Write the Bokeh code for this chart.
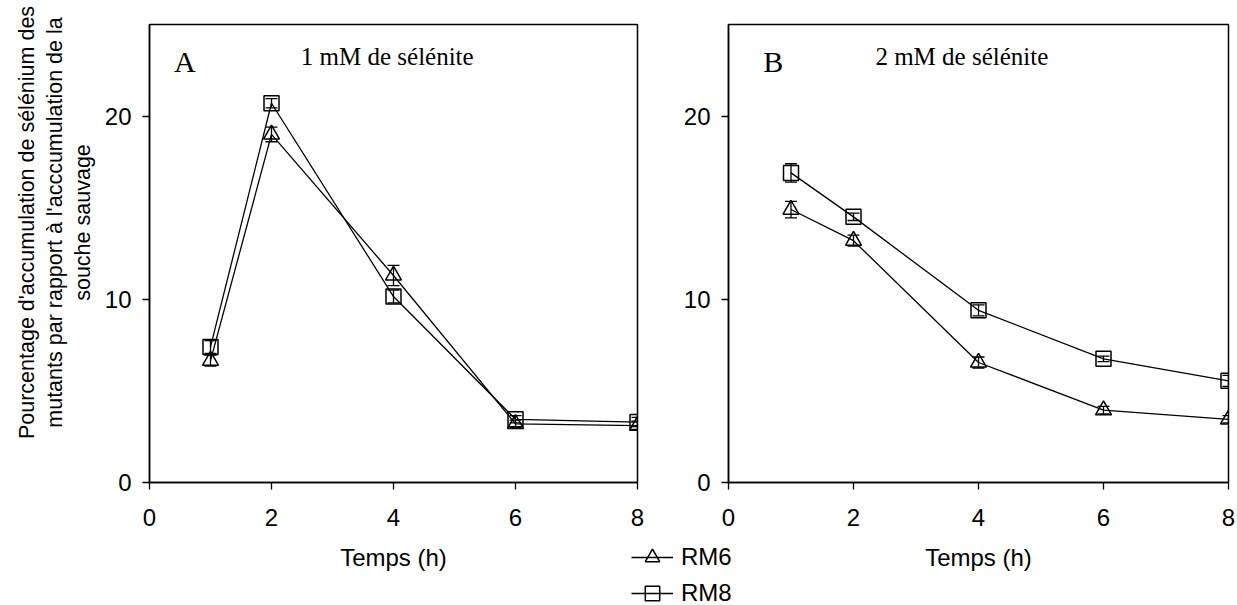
import math
from bokeh.plotting import figure
from bokeh.models import (Range1d, FixedTicker, Whisker, ColumnDataSource, Label,
                          Legend, LegendItem, TeeHead)
from bokeh.layouts import row
from bokeh.embed import file_html
from bokeh.resources import INLINE

# ---------------- data ----------------
hours = [1, 2, 4, 6, 8]
x_ticks = [0, 2, 4, 6, 8]
y_ticks = [0, 10, 20]
series_names = ["RM6", "RM8"]

a_rm6 = [6.65, 19.0, 11.3, 3.2, 3.1]
a_rm6_err = [0.3, 0.4, 0.55, 0.2, 0.25]
a_rm8 = [7.4, 20.7, 10.15, 3.45, 3.3]
a_rm8_err = [0.35, 0.25, 0.35, 0.2, 0.25]

b_rm6 = [14.9, 13.2, 6.55, 3.95, 3.45]
b_rm6_err = [0.45, 0.3, 0.3, 0.2, 0.2]
b_rm8 = [16.9, 14.5, 9.4, 6.75, 5.55]
b_rm8_err = [0.5, 0.2, 0.3, 0.15, 0.3]

panel_letters = ["A", "B"]
panel_titles = ["1 mM de sélénite", "2 mM de sélénite"]
x_title = "Temps (h)"
y_title_lines = ["Pourcentage d'accumulation de sélénium des",
                 "mutants par rapport à l'acccumulation de la",
                 "souche sauvage"]

SANS = "Liberation Sans"
SERIF = "Liberation Serif"


def style_axes(p):
    for ax in (p.xaxis[0], p.yaxis[0]):
        ax.axis_line_color = "black"
        ax.axis_line_width = 1.5
        ax.major_tick_line_color = "black"
        ax.major_tick_line_width = 1.3
        ax.major_tick_out = 7
        ax.major_tick_in = 0
        ax.minor_tick_out = 0
        ax.minor_tick_in = 0
        ax.major_label_text_font = SANS
        ax.major_label_text_font_size = "24px"
        ax.major_label_text_color = "black"
        ax.axis_label_text_font = SANS
        ax.axis_label_text_font_size = "24px"
        ax.axis_label_text_font_style = "normal"
        ax.axis_label_text_color = "black"
    p.xaxis.ticker = FixedTicker(ticks=x_ticks)
    p.yaxis.ticker = FixedTicker(ticks=y_ticks)
    p.xaxis.major_label_standoff = 19
    p.yaxis.major_label_standoff = 11
    p.xaxis.axis_label = x_title
    p.xaxis.axis_label_standoff = 15
    p.grid.visible = False
    p.outline_line_color = "black"
    p.outline_line_width = 1.5
    p.outline_line_alpha = 1.0


def series_source(ys, errs):
    return ColumnDataSource(dict(x=hours, y=ys,
                                 upper=[v + e for v, e in zip(ys, errs)],
                                 lower=[v - e for v, e in zip(ys, errs)]))


def add_series(p, src, marker, size, with_bars=True, visible=True):
    ln = p.line("x", "y", source=src, line_color="black", line_width=1.3,
                visible=visible)
    if with_bars:
        w = Whisker(source=src, base="x", upper="upper", lower="lower",
                    line_color="black", line_width=1.3,
                    upper_head=TeeHead(size=12, line_color="black", line_width=1.3),
                    lower_head=TeeHead(size=12, line_color="black", line_width=1.3))
        p.add_layout(w)
    sc = p.scatter("x", "y", source=src, marker=marker, size=size,
                   fill_alpha=0, line_color="black", line_width=1.5,
                   visible=visible)
    return ln, sc


def make_panel(width, left, right, rm6, rm6e, rm8, rm8e, letter, title,
               letter_x, title_x):
    p = figure(width=width, height=605, output_backend="svg", toolbar_location=None,
               x_range=Range1d(0, 8), y_range=Range1d(0, 25),
               min_border_left=left, min_border_right=right,
               min_border_top=24, min_border_bottom=123)
    style_axes(p)
    add_series(p, series_source(rm6, rm6e), "triangle", 16)
    add_series(p, series_source(rm8, rm8e), "square", 15)
    p.add_layout(Label(x=letter_x, y=23.0, text=letter, text_font=SERIF,
                       text_font_size="30px", text_align="left",
                       text_baseline="alphabetic", text_color="black"))
    p.add_layout(Label(x=title_x, y=23.27, text=title, text_font=SERIF,
                       text_font_size="25px", text_align="left",
                       text_baseline="alphabetic", text_color="black"))
    return p


# panel A: canvas 0..649, frame 149..637
pa = make_panel(649, 149, 12, a_rm6, a_rm6_err, a_rm8, a_rm8_err,
                panel_letters[0], panel_titles[0], 0.40, 2.48)
# panel B: canvas 620..1237, frame 728..1228 (overlaps panel A's border)
pb = make_panel(617, 108, 9, b_rm6, b_rm6_err, b_rm8, b_rm8_err,
                panel_letters[1], panel_titles[1], 0.555, 2.35)
pb.border_fill_alpha = 0
pb.margin = (0, 0, 0, -29)

# transparent overlay (pixel coordinates) carrying the y title and the legend
po = figure(width=745, height=605, output_backend="svg", toolbar_location=None,
            x_range=Range1d(0, 745), y_range=Range1d(605, 0),
            x_axis_type=None, y_axis_type=None,
            min_border_left=0, min_border_right=0, min_border_top=0, min_border_bottom=0)
po.frame_align = False
po.grid.visible = False
po.outline_line_alpha = 0
po.background_fill_alpha = 0
po.border_fill_alpha = 0

for xm, txt in zip([26, 54, 82], y_title_lines):
    po.add_layout(Label(x=xm, y=222, text=txt, angle=math.pi / 2,
                        text_font=SANS, text_font_size="21.5px",
                        text_align="center", text_baseline="middle",
                        text_color="black"))

l6 = add_series(po, series_source(a_rm6, a_rm6_err), "triangle", 16,
                with_bars=False, visible=False)
l8 = add_series(po, series_source(a_rm8, a_rm8_err), "square", 15,
                with_bars=False, visible=False)
legend = Legend(items=[LegendItem(label=series_names[0], renderers=list(l6)),
                       LegendItem(label=series_names[1], renderers=list(l8))],
                location=(631, -6), orientation="vertical",
                glyph_width=42, glyph_height=36, spacing=0, padding=0, margin=0,
                label_standoff=8, border_line_alpha=0, background_fill_alpha=0,
                label_text_font=SANS, label_text_font_size="24px",
                label_text_color="black")
po.add_layout(legend)
po.margin = (0, 492, 0, -1237)

layout = row(pa, pb, po)
open("out.html", "w").write(file_html(layout, INLINE))
